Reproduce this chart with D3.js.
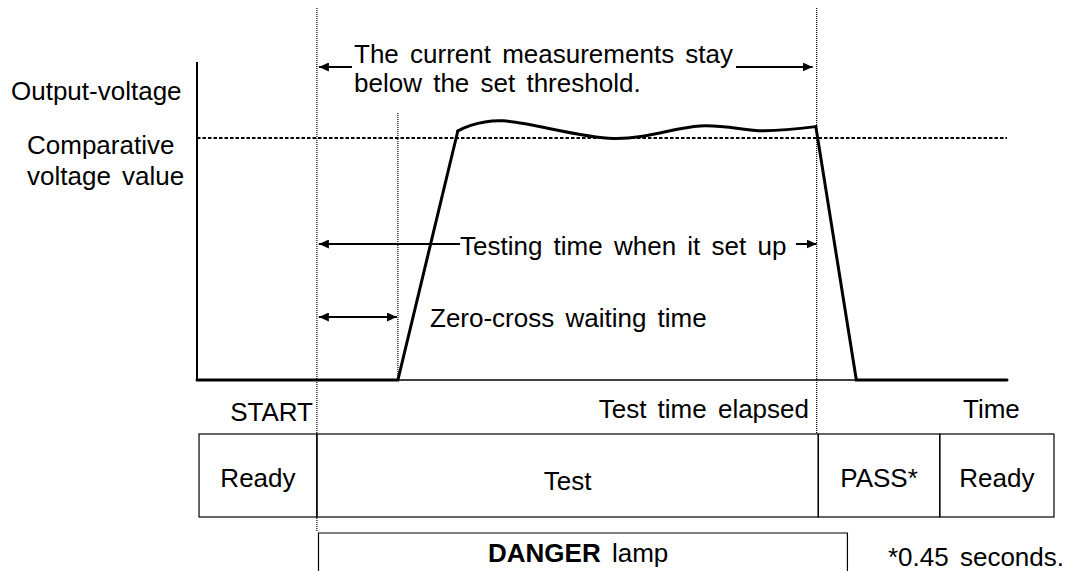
<!DOCTYPE html>
<html>
<head>
<meta charset="utf-8">
<script src="https://cdn.jsdelivr.net/npm/d3@7"></script>
<style>
body{margin:0;background:#fff;}
svg text{font-family:Arial,"Liberation Sans",sans-serif;font-size:26px;fill:#000;word-spacing:4px;}
</style>
</head>
<body>
<div id="chart"></div>
<script>
// time runs 0..100 along the axis, voltage 1 = comparative voltage value
const timeDomain = [0, 100];
const voltDomain = [0, 1];
const axisTopVolt = 1.314;

const riseTimes = [0, 24.8, 32.2];
const riseVolts = [0, 0, 1.029];
const topTimes = [32.2, 37.8, 51.4, 62.1, 69.9, 76.4];
const topVolts = [1.029, 1.071, 0.998, 1.050, 1.030, 1.047];
const fallTimes = [76.4, 81.4, 100];
const fallVolts = [1.047, 0, 0];

const markerTimes = [14.8, 24.8, 76.5]; // START, zero-cross done, test time elapsed
const phaseLabels = ["Ready", "Test", "PASS*", "Ready"];
const phaseEdges = [0.25, 14.8, 76.7, 91.7, 105.8];
const lampSpan = [15.0, 80.3];

const width = 1073, height = 571;
const x = d3.scaleLinear().domain(timeDomain).range([197, 1007]);
const y = d3.scaleLinear().domain(voltDomain).range([380, 138]);

const svg = d3.select("#chart").append("svg")
    .attr("width", width)
    .attr("height", height);

const defs = svg.append("defs");
defs.append("marker")
    .attr("id", "arrowHead")
    .attr("viewBox", "0 0 10 9")
    .attr("refX", 10)
    .attr("refY", 4.5)
    .attr("markerWidth", 10)
    .attr("markerHeight", 9)
    .attr("markerUnits", "userSpaceOnUse")
    .attr("orient", "auto-start-reverse")
    .append("path")
    .attr("d", "M0,0L10,4.5L0,9Z")
    .attr("fill", "#000");

// dotted guide lines
const guideTops = [8, 113, 8];
const guideBottoms = [532, 380, 434];
svg.selectAll(".guide")
    .data(markerTimes)
    .join("line")
    .attr("class", "guide")
    .attr("x1", d=>x(d)).attr("x2", d=>x(d))
    .attr("y1", (d,i)=>guideTops[i])
    .attr("y2", (d,i)=>guideBottoms[i])
    .attr("stroke", "#000")
    .attr("stroke-width", 1.2)
    .attr("stroke-dasharray", "1,1");

// comparative voltage threshold
svg.append("line")
    .attr("x1", x(0)).attr("x2", x(100))
    .attr("y1", y(1)).attr("y2", y(1))
    .attr("stroke", "#000")
    .attr("stroke-width", 2)
    .attr("stroke-dasharray", "3.5,2");

// axes
svg.append("line")
    .attr("x1", x(0)).attr("x2", x(0))
    .attr("y1", y(axisTopVolt)).attr("y2", y(0))
    .attr("stroke", "#000").attr("stroke-width", 2);
svg.append("line")
    .attr("x1", x(0)).attr("x2", x(100))
    .attr("y1", y(0)).attr("y2", y(0))
    .attr("stroke", "#000").attr("stroke-width", 1.5);

// waveform
const linePath = d3.line().x(d=>x(d[0])).y(d=>y(d[1]));
const wavePath = d3.line().x(d=>x(d[0])).y(d=>y(d[1])).curve(d3.curveCardinal);
[
    [d3.zip(riseTimes, riseVolts), linePath],
    [d3.zip(topTimes, topVolts), wavePath],
    [d3.zip(fallTimes, fallVolts), linePath]
].forEach(([pts, gen])=>{
    svg.append("path")
        .attr("d", gen(pts))
        .attr("fill", "none")
        .attr("stroke", "#000")
        .attr("stroke-width", 3)
        .attr("stroke-linejoin", "miter")
        .attr("stroke-linecap", "round");
});

// arrows
const arrow = (x1, x2, yy, both)=>{
    const l = svg.append("line")
        .attr("x1", x1).attr("x2", x2)
        .attr("y1", yy).attr("y2", yy)
        .attr("stroke", "#000").attr("stroke-width", 2)
        .attr("marker-end", "url(#arrowHead)");
    if(both) l.attr("marker-start", "url(#arrowHead)");
};
arrow(352, x(markerTimes[0]) + 2, 67);
arrow(736, x(markerTimes[2]) - 4, 67);
arrow(460, x(markerTimes[0]) + 2, 244);
arrow(796, x(markerTimes[2]), 244);
arrow(x(markerTimes[0]) + 2, x(markerTimes[1]) - 1, 317, true);

// phase boxes
const phases = phaseLabels.map((label,i)=>({label, t0: phaseEdges[i], t1: phaseEdges[i+1]}));
const boxTop = 434, boxBottom = 517;
const phaseG = svg.selectAll(".phase")
    .data(phases)
    .join("g")
    .attr("class", "phase");
phaseG.append("rect")
    .attr("x", d=>x(d.t0))
    .attr("y", boxTop)
    .attr("width", d=>x(d.t1) - x(d.t0))
    .attr("height", boxBottom - boxTop)
    .attr("fill", "none")
    .attr("stroke", "#000")
    .attr("stroke-width", 1.2);
phaseG.append("text")
    .attr("x", d=>(x(d.t0) + x(d.t1)) / 2)
    .attr("y", d=>d.label === "Test" ? 490 : 487)
    .attr("text-anchor", "middle")
    .text(d=>d.label);

// DANGER lamp box (runs off the bottom)
svg.append("path")
    .attr("d", `M${x(lampSpan[0])},${height + 5}V533H${x(lampSpan[1])}V${height + 5}`)
    .attr("fill", "none")
    .attr("stroke", "#000")
    .attr("stroke-width", 1.2);
const lamp = svg.append("text")
    .attr("x", 488).attr("y", 562);
lamp.append("tspan").attr("font-weight", "bold").text("DANGER");
lamp.append("tspan").text(" lamp");

// labels
const addText = (txt, tx, ty, anchor)=>{
    svg.append("text")
        .attr("x", tx).attr("y", ty)
        .attr("text-anchor", anchor || "start")
        .text(txt);
};
addText("Output-voltage", 11, 100);
addText("Comparative", 27, 154);
addText("voltage value", 27, 185);
addText("The current measurements stay", 354, 63);
addText("below the set threshold.", 354, 92);
addText("Testing time when it set up", 460, 255);
addText("Zero-cross waiting time", 430, 327);
addText("START", 313, 421, "end");
addText("Test time elapsed", 809, 418, "end");
addText("Time", 963, 418);
addText("*0.45 seconds.", 888, 566);
</script>
</body>
</html>
